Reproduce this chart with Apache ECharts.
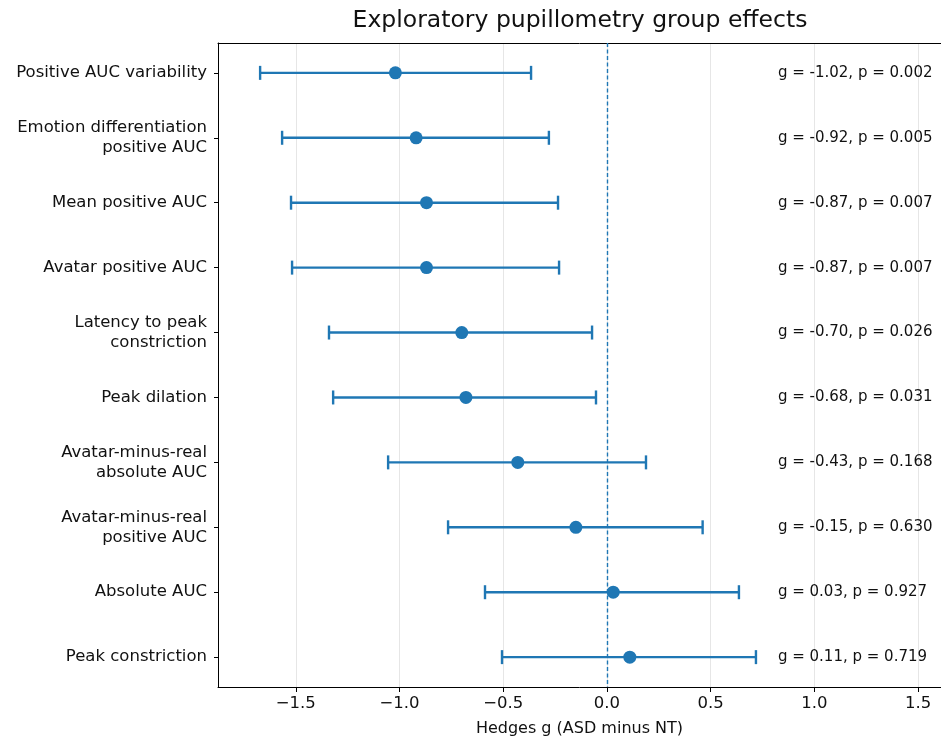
<!DOCTYPE html>
<html>
<head>
<meta charset="utf-8">
<script src="https://cdn.jsdelivr.net/npm/echarts@6/dist/echarts.min.js"></script>
<style>
html,body{margin:0;padding:0;background:#fff;}
#chart{width:941px;height:742px;}
</style>
</head>
<body>
<div id="chart"></div>
<script>
const categories = [
  "Positive AUC variability",
  "Emotion differentiation\npositive AUC",
  "Mean positive AUC",
  "Avatar positive AUC",
  "Latency to peak\nconstriction",
  "Peak dilation",
  "Avatar-minus-real\nabsolute AUC",
  "Avatar-minus-real\npositive AUC",
  "Absolute AUC",
  "Peak constriction"
];
const gValues = [-1.02, -0.92, -0.87, -0.87, -0.70, -0.68, -0.43, -0.15, 0.03, 0.11];
const ciLow  = [-1.672, -1.566, -1.523, -1.518, -1.340, -1.320, -1.055, -0.766, -0.588, -0.506];
const ciHigh = [-0.366, -0.280, -0.236, -0.231, -0.072, -0.053, 0.188, 0.461, 0.636, 0.718];
const pValues = [0.002, 0.005, 0.007, 0.007, 0.026, 0.031, 0.168, 0.630, 0.927, 0.719];
const xTicks = [-1.5, -1.0, -0.5, 0.0, 0.5, 1.0, 1.5];
const rowIdx = categories.map((c, i) => i);

const FONT = 'DejaVu Sans';
const BLUE = '#1f77b4';
const annX = 0.824;

const chart = echarts.init(document.getElementById('chart'), null, {renderer: 'canvas'});

const errData = rowIdx.map(i => [ciLow[i], ciHigh[i], i]);
const ptData = rowIdx.map(i => [gValues[i], i]);
const annData = rowIdx.map(i => [annX, i, 'g = ' + gValues[i].toFixed(2) + ', p = ' + pValues[i].toFixed(3)]);

const option = {
  animation: false,
  backgroundColor: '#fff',
  title: {
    text: 'Exploratory pupillometry group effects',
    left: 580,
    textAlign: 'center',
    top: 9,
    padding: 0,
    textStyle: {fontFamily: FONT, fontSize: 23.5, fontWeight: 'normal', color: '#111'}
  },
  grid: {left: 218, right: 0, top: 43, bottom: 53, containLabel: false},
  xAxis: [{
    type: 'value',
    min: -1.875,
    max: 1.61,
    position: 'bottom',
    name: 'Hedges g (ASD minus NT)',
    nameLocation: 'middle',
    nameGap: 34,
    nameTextStyle: {fontFamily: FONT, fontSize: 16, color: '#111'},
    axisLine: {show: true, onZero: false, lineStyle: {color: '#000', width: 1}},
    axisTick: {show: true, customValues: xTicks, length: 5, inside: false, lineStyle: {color: '#000', width: 1}},
    axisLabel: {
      customValues: xTicks,
      margin: 8,
      fontFamily: FONT, fontSize: 16.5, color: '#111',
      formatter: v => (v < 0 ? '\u2212' : '') + Math.abs(v).toFixed(1)
    },
    splitLine: {show: true, lineStyle: {color: '#e6e6e6', width: 1}}
  }, {
    type: 'value',
    min: -1.875,
    max: 1.61,
    position: 'top',
    axisLine: {show: true, onZero: false, lineStyle: {color: '#000', width: 1}},
    axisTick: {show: false},
    axisLabel: {show: false},
    splitLine: {show: false}
  }],
  yAxis: {
    type: 'value',
    inverse: true,
    min: -0.46,
    max: 9.46,
    axisLine: {show: true, onZero: false, lineStyle: {color: '#000', width: 1}},
    axisTick: {show: true, customValues: rowIdx, length: 4, lineStyle: {color: '#000', width: 1}},
    axisLabel: {
      customValues: rowIdx,
      margin: 11,
      fontFamily: FONT, fontSize: 16.5, color: '#111',
      lineHeight: 20,
      align: 'right',
      formatter: v => categories[Math.round(v)]
    },
    splitLine: {show: false}
  },
  series: [
    {
      type: 'custom',
      name: 'ci',
      data: errData,
      encode: {x: [0, 1], y: 2},
      z: 2,
      renderItem: function (params, api) {
        const y = api.value(2);
        const a = api.coord([api.value(0), y]);
        const b = api.coord([api.value(1), y]);
        const h = 7;
        const st = {stroke: BLUE, lineWidth: 2.4};
        return {
          type: 'group',
          children: [
            {type: 'line', shape: {x1: a[0], y1: a[1], x2: b[0], y2: b[1]}, style: st},
            {type: 'line', shape: {x1: a[0], y1: a[1] - h, x2: a[0], y2: a[1] + h}, style: st},
            {type: 'line', shape: {x1: b[0], y1: b[1] - h, x2: b[0], y2: b[1] + h}, style: st}
          ]
        };
      }
    },
    {
      type: 'scatter',
      name: 'g',
      data: ptData,
      symbol: 'circle',
      symbolSize: 13,
      itemStyle: {color: BLUE, opacity: 1},
      z: 3,
      markLine: {
        silent: true,
        symbol: 'none',
        label: {show: false},
        lineStyle: {color: BLUE, type: [4, 2.5], width: 1.4, opacity: 1},
        data: [{xAxis: 0}]
      }
    },
    {
      type: 'custom',
      name: 'ann',
      data: annData,
      encode: {x: 0, y: 1},
      z: 4,
      renderItem: function (params, api) {
        const p = api.coord([api.value(0), api.value(1)]);
        return {
          type: 'text',
          x: p[0], y: p[1],
          style: {
            text: annData[params.dataIndex][2],
            fontFamily: FONT, fontSize: 15, fill: '#111',
            align: 'left', verticalAlign: 'middle'
          }
        };
      }
    }
  ]
};
chart.setOption(option);
</script>
</body>
</html>
